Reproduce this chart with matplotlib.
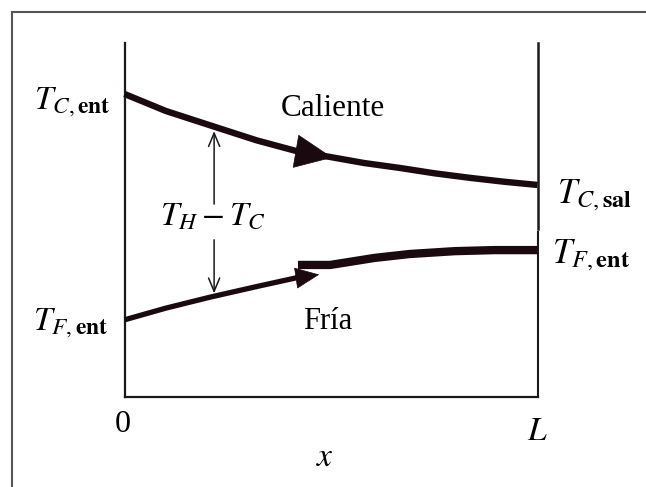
import matplotlib.pyplot as plt
from matplotlib.lines import Line2D

plt.rcParams['font.family'] = ['Liberation Serif', 'DejaVu Serif']
plt.rcParams['mathtext.fontset'] = 'stix'

#position along the exchanger as a fraction of L, and temperature in arbitrary units
hot_x = [0.0, 0.10, 0.219, 0.32, 0.425, 0.498, 0.58, 0.667, 0.75, 0.837, 0.92, 1.0]
hot_t = [85.6, 80.8, 76.3, 72.5, 69.2, 67.8, 66.1, 64.7, 63.2, 61.9, 60.8, 59.9]

cold_x = [0.0, 0.10, 0.207, 0.32, 0.425]
cold_t = [21.8, 25.1, 28.2, 31.2, 33.9]

#second part of the cold stream, drawn as a heavier bar
cold_end_x = [0.42, 0.498, 0.606, 0.691, 0.80, 0.897, 1.0]
cold_end_t = [37.3, 37.3, 39.3, 40.4, 41.2, 41.5, 41.5]

curve_color = '#1a0a0f'
axis_color = '#1a1a1a'

fig = plt.figure(figsize=(6.46, 4.87), dpi=100)
ax = fig.add_axes([124.5 / 646, 90 / 487, 413 / 646, 354 / 487])
ax.set_xlim(0, 1)
ax.set_ylim(0, 100)
ax.axis('off')

#outer frame (left and top edges only)
fig.add_artist(Line2D([11.5 / 646, 11.5 / 646], [0.0, 1 - 12 / 487], color='#555555', lw=1.5))
fig.add_artist(Line2D([11.5 / 646, 1.0], [1 - 12 / 487, 1 - 12 / 487], color='#555555', lw=1.5))

#the two vertical walls at x = 0 and x = L, plus the base line
ax.plot([0, 0], [100, 48.4], color=axis_color, lw=1.6, clip_on=False)
ax.plot([0, 0], [47.6, 0], color=axis_color, lw=1.6, clip_on=False)
ax.plot([1, 1], [100, 47.5], color=axis_color, lw=1.8, clip_on=False)
ax.plot([1, 1], [46.7, 0], color=axis_color, lw=1.5, clip_on=False)
ax.plot([0, 1], [0, 0], color=axis_color, lw=1.6, clip_on=False)

#hot and cold streams
ax.plot(hot_x, hot_t, color=curve_color, lw=4.6, solid_capstyle='butt', clip_on=False)
ax.plot(cold_x, cold_t, color=curve_color, lw=3.8, solid_capstyle='butt', clip_on=False)
ax.plot(cold_end_x, cold_end_t, color=curve_color, lw=6.0, solid_capstyle='butt', clip_on=False)

#flow direction arrowheads
ax.annotate('', xy=(0.51, 67.5), xytext=(0.43, 69.1),
            arrowprops=dict(arrowstyle='-|>,head_length=1.0,head_width=0.45',
                            mutation_scale=26, color=curve_color, lw=0.5))
ax.annotate('', xy=(0.478, 34.7), xytext=(0.41, 33.5),
            arrowprops=dict(arrowstyle='-|>,head_length=0.9,head_width=0.4',
                            mutation_scale=18, color=curve_color, lw=0.5))

#temperature difference arrows
ax.annotate('', xy=(0.217, 75.9), xytext=(0.217, 53.7),
            arrowprops=dict(arrowstyle='->,head_length=0.6,head_width=0.25',
                            mutation_scale=16, color=axis_color, lw=1.1))
ax.annotate('', xy=(0.217, 28.5), xytext=(0.217, 45.2),
            arrowprops=dict(arrowstyle='->,head_length=0.6,head_width=0.25',
                            mutation_scale=16, color=axis_color, lw=1.1))
ax.text(0.214, 51.1, r'$T_H - T_C$', fontsize=24, ha='center', va='center')

#labels
ax.text(-0.033, 83.4, r'$T_{C,\mathbf{ent}}$', fontsize=24, ha='right', va='center')
ax.text(-0.04, 20.8, r'$T_{F,\mathbf{ent}}$', fontsize=24, ha='right', va='center')
ax.text(1.048, 57.0, r'$T_{C,\mathbf{sal}}$', fontsize=25, ha='left', va='center')
ax.text(1.035, 40.2, r'$T_{F,\mathbf{ent}}$', fontsize=25, ha='left', va='center')
ax.text(0.505, 81.6, 'Caliente', fontsize=22.5, ha='center', va='center')
ax.text(0.493, 21.2, 'Fría', fontsize=22, ha='center', va='center')

ax.text(-0.004, -7.9, '0', fontsize=23, ha='center', va='center')
ax.text(1.0, -9.9, '$L$', fontsize=24, ha='center', va='center')
ax.text(0.485, -17.2, '$x$', fontsize=24, ha='center', va='center')

fig.savefig('out.png', dpi=100)
